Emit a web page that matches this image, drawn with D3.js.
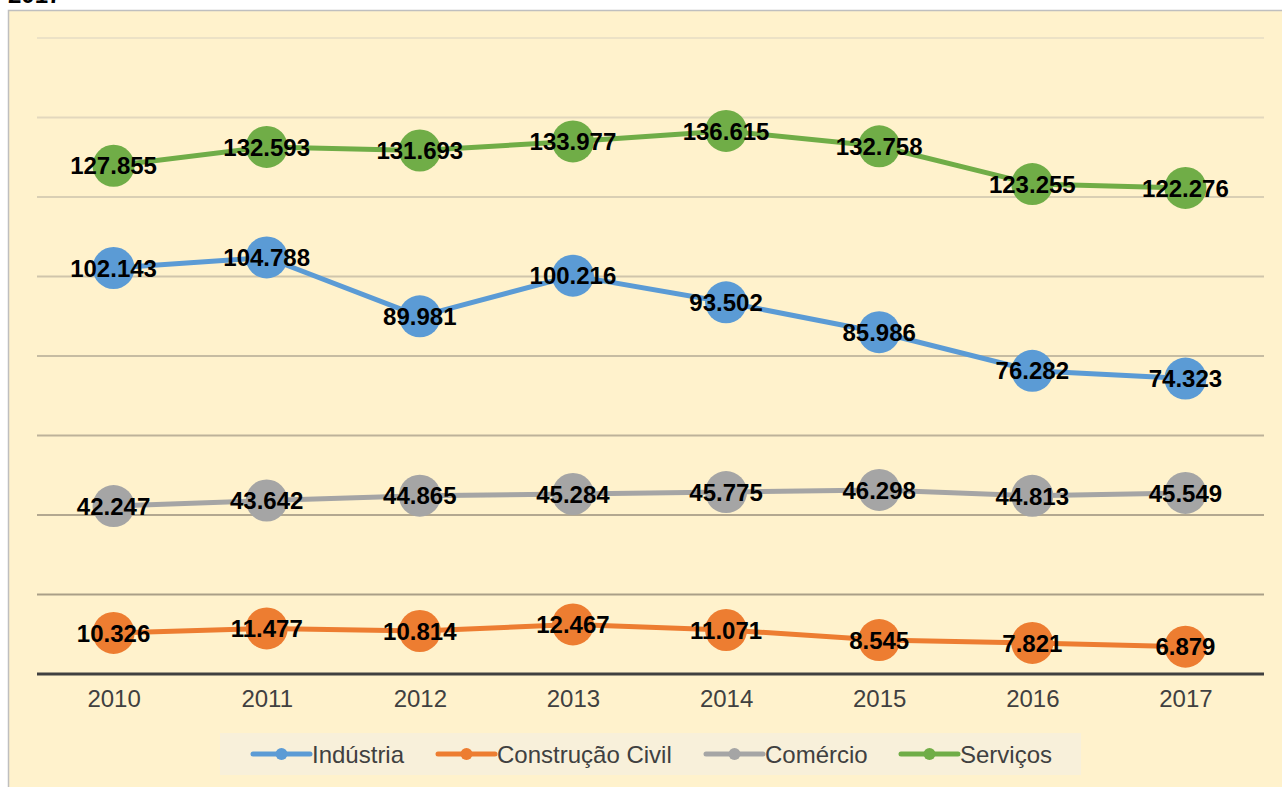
<!DOCTYPE html>
<html>
<head>
<meta charset="utf-8">
<script src="https://cdn.jsdelivr.net/npm/d3@7"></script>
<style>
  body { margin: 0; background: #fff; }
  svg { display: block; font-family: Arial, "Liberation Sans", sans-serif; }
</style>
</head>
<body>
<svg id="chart" width="1282" height="787"></svg>
<script>
// dados
var anos = ["2010", "2011", "2012", "2013", "2014", "2015", "2016", "2017"];
var setores = ["Indústria", "Construção Civil", "Comércio", "Serviços"];
var industria = [102143, 104788, 89981, 100216, 93502, 85986, 76282, 74323];
var construcao = [10326, 11477, 10814, 12467, 11071, 8545, 7821, 6879];
var comercio = [42247, 43642, 44865, 45284, 45775, 46298, 44813, 45549];
var servicos = [127855, 132593, 131693, 133977, 136615, 132758, 123255, 122276];
var yTicks = [0, 20000, 40000, 60000, 80000, 100000, 120000, 140000, 160000];

var cores = ["#5b9bd5", "#ed7d31", "#a5a5a5", "#70ad47"];
var series = [industria, construcao, comercio, servicos].map(function(v, i) {
  return { nome: setores[i], cor: cores[i], valores: v };
});

var svg = d3.select("#chart");

// fundo do grafico
svg.append("rect")
  .attr("x", 8.5).attr("y", 10.5)
  .attr("width", 1290).attr("height", 800)
  .attr("fill", "#fff2cc")
  .attr("stroke", "#bfbfbf")
  .attr("stroke-width", 1.5);

// titulo (cortado no topo, como no original)
svg.append("text")
  .attr("x", 8).attr("y", 3)
  .attr("font-size", 24)
  .attr("font-weight", "bold")
  .attr("fill", "#000")
  .text("2017");

var x = d3.scalePoint()
  .domain(anos)
  .range([37, 1262])
  .padding(0.5);

var y = d3.scaleLinear()
  .domain([0, 160000])
  .range([674, 38]);

// grade (fica mais escura embaixo)
var corGrade = d3.scaleLinear()
  .domain([160000, 0])
  .range(["#ece2c6", "#a0957e"]);

svg.append("g")
  .selectAll("line")
  .data(yTicks.filter(function(d) { return d > 0; }))
  .enter().append("line")
    .attr("x1", 37).attr("x2", 1264)
    .attr("y1", function(d) { return y(d); })
    .attr("y2", function(d) { return y(d); })
    .attr("stroke", function(d) { return corGrade(d); })
    .attr("stroke-width", 2);

// eixo x
var eixoX = svg.append("g")
  .attr("transform", "translate(0," + y(0) + ")")
  .call(d3.axisBottom(x).tickSize(0).tickPadding(16));
eixoX.select(".domain")
  .attr("d", "M37,0H1264")
  .attr("stroke", "#404040")
  .attr("stroke-width", 3);
eixoX.selectAll("text")
  .attr("font-size", 24)
  .attr("font-family", "Arial, 'Liberation Sans', sans-serif")
  .attr("fill", "#404040");

var linha = d3.line()
  .x(function(d, i) { return x(anos[i]); })
  .y(function(d) { return y(d); });

var g = svg.append("g");

series.forEach(function(s) {
  g.append("path")
    .datum(s.valores)
    .attr("d", linha)
    .attr("fill", "none")
    .attr("stroke", s.cor)
    .attr("stroke-width", 5)
    .attr("stroke-linejoin", "round");

  g.selectAll(null)
    .data(s.valores)
    .enter().append("circle")
      .attr("cx", function(d, i) { return x(anos[i]); })
      .attr("cy", function(d) { return y(d); })
      .attr("r", 21)
      .attr("fill", s.cor);
});

// rotulos
var fmt = d3.formatLocale({ decimal: ",", thousands: ".", grouping: [3], currency: ["R$", ""] }).format(",d");

series.forEach(function(s) {
  g.selectAll(null)
    .data(s.valores)
    .enter().append("text")
      .attr("x", function(d, i) { return x(anos[i]); })
      .attr("y", function(d) { return y(d); })
      .attr("dy", "0.36em")
      .attr("text-anchor", "middle")
      .attr("font-size", 24)
      .attr("font-weight", "bold")
      .attr("fill", "#000")
      .text(function(d) { return fmt(d); });
});

// legenda
var leg = svg.append("g");
leg.append("rect")
  .attr("x", 220).attr("y", 733)
  .attr("width", 861).attr("height", 42)
  .attr("fill", "#f8f0da");

var legX = [253, 438, 706, 901];
series.forEach(function(s, i) {
  var item = leg.append("g").attr("transform", "translate(" + legX[i] + ",754)");
  item.append("line")
    .attr("x1", 0).attr("x2", 57)
    .attr("stroke", s.cor)
    .attr("stroke-width", 5)
    .attr("stroke-linecap", "round");
  item.append("circle")
    .attr("cx", 28.5).attr("r", 6)
    .attr("fill", s.cor);
  item.append("text")
    .attr("x", 59)
    .attr("dy", "0.36em")
    .attr("font-size", 24)
    .attr("fill", "#404040")
    .text(s.nome);
});
</script>
</body>
</html>
